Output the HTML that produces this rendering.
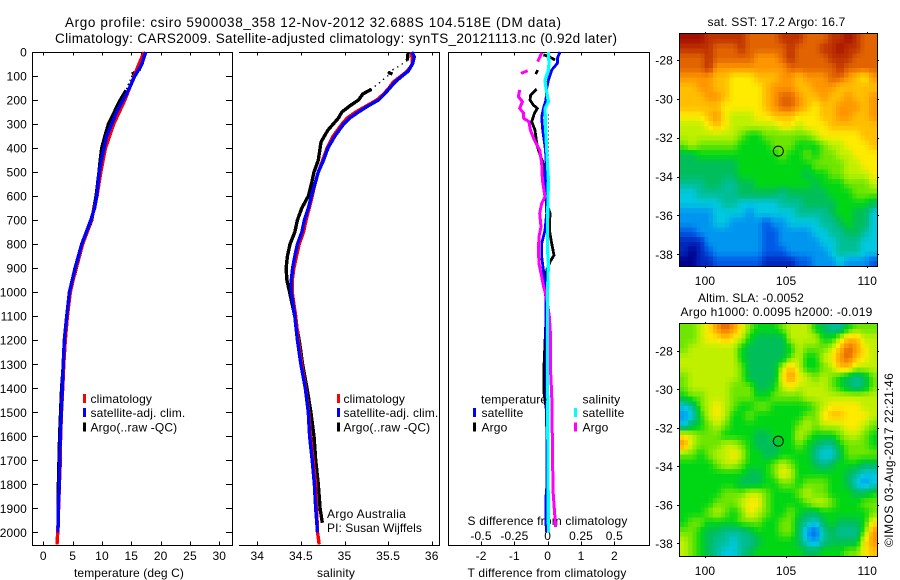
<!DOCTYPE html>
<html lang="en"><head><meta charset="utf-8"><title>Argo profile</title>
<style>
html,body{margin:0;padding:0;background:#fff;width:900px;height:580px;overflow:hidden}
svg{display:block}
text{font-family:"Liberation Sans",sans-serif;font-size:12px;fill:#000;letter-spacing:.14px}
</style></head>
<body>
<svg id="chart" width="900" height="580" viewBox="0 0 900 580" xmlns="http://www.w3.org/2000/svg">
<rect x="0" y="0" width="900" height="580" fill="#fff"/>
<text x="65" y="27" style="font-size:13.5px;letter-spacing:0" textLength="496" lengthAdjust="spacing">Argo profile: csiro 5900038_358 12-Nov-2012 32.688S 104.518E (DM data)</text>
<text x="55" y="43" style="font-size:13.5px;letter-spacing:0" textLength="562" lengthAdjust="spacing">Climatology: CARS2009. Satellite-adjusted climatology: synTS_20121113.nc (0.92d later)</text>
<text x="707.5" y="26" textLength="138" lengthAdjust="spacing">sat. SST: 17.2 Argo: 16.7</text>
<text x="698" y="302" textLength="106" lengthAdjust="spacing">Altim. SLA: -0.0052</text>
<text x="680.5" y="316" textLength="192" lengthAdjust="spacing">Argo h1000: 0.0095 h2000: -0.019</text>
<text transform="translate(893,547) rotate(-90)" textLength="174" lengthAdjust="spacing">©IMOS 03-Aug-2017 22:21:46</text>
<text x="327" y="518" textLength="79" lengthAdjust="spacing">Argo Australia</text>
<text x="327" y="532" textLength="95" lengthAdjust="spacing">PI: Susan Wijffels</text>
<text x="467.5" y="525" textLength="160" lengthAdjust="spacing">S difference from climatology</text>
<text x="467.5" y="577" textLength="159" lengthAdjust="spacing">T difference from climatology</text>
<text x="74" y="577" textLength="110" lengthAdjust="spacing">temperature (deg C)</text>
<text x="317" y="577" textLength="38" lengthAdjust="spacing">salinity</text>
</svg>
<script>
/* ---------- depth axis ---------- */
const depthTicks = [0,100,200,300,400,500,600,700,800,900,1000,1100,1200,1300,1400,1500,1600,1700,1800,1900,2000];
const tempTicks = [0,5,10,15,20,25,30];
const salTicks = [34,34.5,35,35.5,36];
const salTickLabels = ['34','34.5','35','35.5','36'];
const tDiffTicks = [-2,-1,0,1,2];
const sDiffTicks = [-0.5,-0.25,0,0.25,0.5];
const sDiffTickLabels = ['-0.5','-0.25','0','0.25','0.5'];
const lonTicks = [100,105,110];
const latTicks = [-28,-30,-32,-34,-36,-38];
const profileLon = 104.518;
const profileLat = -32.688;

/* ---------- temperature profile ---------- */
const depthClimT = [0,50,100,200,300,400,500,600,700,800,900,1000,1100,1200,1300,1400,1500,1600,1700,1800,1900,2000,2050];
const climT = [17.2,16.3,15.5,13.9,12,10.6,9.8,9.15,8.2,6.7,5.55,4.6,4.1,3.75,3.5,3.3,3.1,2.95,2.9,2.75,2.6,2.45,2.33];
const depthSatT = [0,50,80,100,150,200,250,300,350,400,450,500,600,650,700,800,900,1000,1100,1200,1300,1400,1500,1600,1700,1800,1900,2000];
const satT = [17.45,16.8,16.1,15.6,14.7,13.6,12.5,11.65,10.8,10.35,9.9,9.55,9.1,8.75,8.1,6.55,5.4,4.45,3.98,3.58,3.4,3.25,3.07,2.9,2.8,2.73,2.56,2.5];
const depthArgoT = [0,20,50,78,null,82,92,null,160,200,250,300,350,400,450,500,600,700,800,900,1000,1100,1400,1600,1800,1960];
const argoT = [16.9,16.9,16.7,16.3,null,15.9,15.1,null,14.1,13.1,12.1,11.1,10.5,9.95,9.7,9.5,9,8.25,6.7,5.6,4.55,4,3.12,2.78,2.58,2.5];
const depthRawT = [78,92,160];
const rawT = [16.3,15.2,14.1];

/* ---------- salinity profile ---------- */
const depthClimS = [0,50,80,100,125,150,175,200,225,250,275,300,350,400,450,500,550,600,650,700,750,800,850,900,950,1000,1100,1200,1300,1400,1500,1600,1700,1800,1900,2000,2050];
const climS = [35.77,35.78,35.72,35.65,35.56,35.51,35.45,35.37,35.25,35.13,35.03,34.97,34.87,34.8,34.75,34.7,34.66,34.63,34.595,34.56,34.53,34.48,34.45,34.42,34.4,34.4,34.44,34.47,34.51,34.555,34.59,34.61,34.64,34.67,34.68,34.69,34.71];
const depthSatS = [0,20,50,80,100,125,150,175,200,225,250,275,300,350,400,450,500,550,600,650,700,750,800,850,900,950,1000,1100,1200,1300,1400,1500,1600,1700,1800,1900,2000];
const satS = [35.77,35.8,35.78,35.73,35.66,35.58,35.52,35.46,35.39,35.27,35.16,35.06,34.99,34.89,34.81,34.76,34.7,34.66,34.62,34.585,34.54,34.51,34.46,34.43,34.405,34.39,34.39,34.43,34.46,34.5,34.55,34.585,34.6,34.63,34.655,34.67,34.69];
const depthArgoS = [0,35,null,85,92,null,155,175,200,225,250,275,300,325,350,375,400,450,500,550,600,650,700,750,800,850,900,950,1000,1100,1200,1300,1400,1500,1600,1700,1800,1900,1960];
const argoS = [35.73,35.72,null,35.5,35.55,null,35.31,35.21,35.16,35.06,34.97,34.93,34.87,34.81,34.77,34.73,34.72,34.7,34.65,34.62,34.585,34.51,34.46,34.43,34.375,34.345,34.33,34.34,34.37,34.43,34.48,34.52,34.57,34.615,34.65,34.67,34.7,34.72,34.745];
const depthRawS = [35,60,85,92,155];
const rawS = [35.72,35.62,35.5,35.52,35.31];

/* ---------- differences from climatology ---------- */
const depthDiffSatT = [0,26,47,75,117,151,200,235,270,325,394,436,533,603,672,742,797,853,908,964,1019,1100,1800,1850,1950,2000];
const diffSatT = [0.37,0.29,0.29,0.12,0.02,-0.03,-0.05,-0.13,-0.18,-0.15,-0.08,-0.05,-0.07,-0.05,-0.03,-0.08,-0.18,-0.18,-0.13,-0.08,-0.06,-0.05,-0.02,-0.05,-0.06,-0.03];
const depthDiffArgoT = [12,18,33,null,75,92,null,155,179,200,221,235,255,290,325,380,408,457,533,617,672,742,797,846,874,908,964,1019,1140,1240,1340,1410,1500,2000];
const diffArgoT = [-0.13,0.02,0.22,null,-0.3,-0.36,null,-0.33,-0.51,-0.53,-0.43,-0.31,-0.4,-0.48,-0.38,-0.33,-0.28,-0.15,-0.07,-0.05,0.07,0.05,0.12,0.19,0.07,-0.03,-0.05,-0.03,-0.06,-0.09,-0.12,-0.12,-0.03,-0.02];
const depthDiffSatS = [0,47,75,117,151,207,235,325,408,533,672,811,880,1019,1500,2000];
const diffSatS = [0.005,0.01,0.005,-0.02,-0.0125,0.005,-0.02,-0.015,-0.0075,0.005,0,-0.0025,0.005,-0.0025,0,0.005];
const depthDiffArgoS = [3,19,40,null,78,89,null,158,186,207,235,255,276,290,325,367,408,464,533,603,630,672,728,769,825,880,936,978,1019,1103,1172,1242,1340,1422,1630,1825,1908,1978];
const diffArgoS = [-0.045,-0.0575,-0.075,null,-0.15,-0.2,null,-0.21,-0.22,-0.19,-0.21,-0.18,-0.18,-0.14,-0.13,-0.1,-0.06,-0.045,-0.04,-0.02,-0.045,-0.06,-0.05,-0.065,-0.07,-0.065,-0.045,-0.03,-0.01,0.0125,0.02,0.02,0.0225,0.03,0.035,0.04,0.05,0.06];
const depthDiffRaw = [260,430];
const diffRaw = [0.02,0.02];

/* ---------- maps (colour levels 0-15) ---------- */
const sstLevels = [
[15,15,15,14,14,14,14,14,13,13,13,13,14,14,14,13,13,13,14,14,15,14,13,13],
[14,14,14,14,13,13,13,14,13,13,13,13,13,14,13,13,13,14,14,15,14,14,13,13],
[13,13,13,14,13,13,13,13,13,12,12,12,13,14,13,13,13,13,14,14,14,13,13,13],
[13,13,13,14,12,12,12,12,12,12,12,12,12,13,13,13,13,13,13,14,13,13,13,13],
[12,12,12,12,11,11,10,10,10,11,11,11,12,12,11,12,12,12,13,13,12,11,10,12],
[11,11,12,12,11,11,10,10,10,10,11,12,12,12,11,11,12,12,12,11,11,11,11,11],
[11,11,11,12,12,11,10,10,10,10,11,12,13,13,12,11,11,12,11,11,12,11,11,12],
[11,11,11,11,11,10,10,10,10,10,11,12,13,13,12,11,10,11,11,12,12,12,11,12],
[10,10,10,11,12,10,9,9,9,10,10,11,11,11,10,10,10,11,11,12,12,11,11,12],
[9,9,9,10,11,10,9,9,9,9,9,9,10,10,9,10,10,10,11,11,11,11,11,11],
[9,9,9,9,9,9,9,8,7,7,8,8,8,8,8,8,9,10,10,10,10,10,11,11],
[8,9,8,8,8,8,8,7,7,7,7,8,8,8,7,7,7,8,9,9,10,10,10,11],
[6,6,7,7,7,7,7,7,7,7,7,7,8,7,7,8,7,8,8,9,9,10,10,10],
[6,6,6,6,6,6,6,7,7,7,7,7,7,7,7,7,8,8,8,8,9,9,10,10],
[6,6,6,6,6,6,6,7,7,7,7,7,7,7,7,6,7,7,8,8,9,9,9,10],
[5,5,5,6,6,5,5,6,6,7,7,7,7,7,7,7,6,7,7,7,8,8,8,9],
[4,4,5,5,5,5,5,6,6,6,6,6,5,6,6,6,6,6,7,7,7,8,8,8],
[4,4,4,4,4,5,5,4,4,4,4,4,5,5,5,6,6,6,6,7,7,7,7,6],
[3,3,3,3,4,4,4,4,3,4,4,4,4,4,5,5,5,5,6,7,7,6,6,4],
[3,3,3,3,4,4,3,3,3,3,2,3,3,4,4,4,4,5,5,6,7,6,6,4],
[2,2,3,3,3,3,3,3,3,3,2,2,3,3,3,3,4,4,5,5,6,6,5,4],
[1,1,1,3,3,3,3,3,3,3,2,2,3,3,3,3,3,4,4,5,5,5,4,4],
[1,0,1,2,3,3,3,3,3,3,2,2,2,3,3,3,3,3,4,5,5,5,4,4],
[0,0,1,1,2,2,2,2,2,2,1,1,1,1,2,2,3,3,3,4,3,3,3,2]
];
const slaLevels = [
[8,8,9,10,12,13,12,10,8,7,7,7,8,9,9,9,7,6,5,5,7,8,8,8],
[8,8,9,10,10,11,10,9,7,6,6,6,6,9,9,9,9,7,7,9,11,11,9,9],
[8,9,9,9,9,9,9,7,6,6,6,6,6,7,9,8,8,8,9,11,13,12,10,9],
[9,9,9,9,9,9,9,7,6,6,6,6,6,8,9,7,7,9,10,12,13,11,10,9],
[9,9,9,9,9,9,9,8,6,6,6,6,9,11,9,7,7,8,9,11,11,9,9,9],
[8,9,9,9,9,9,9,8,6,6,6,6,10,12,10,9,8,9,8,7,6,5,6,8],
[8,9,9,9,9,9,8,8,8,6,6,7,9,10,9,9,9,9,8,7,6,5,6,8],
[7,8,8,9,9,9,8,8,8,7,7,8,8,8,8,9,9,9,9,9,9,9,9,9],
[4,5,8,9,10,9,8,7,7,8,8,7,7,7,7,7,8,9,10,10,10,10,9,9],
[3,4,7,9,10,9,7,7,8,7,7,7,7,7,7,8,8,10,11,11,10,10,10,9],
[4,6,7,8,9,8,7,7,7,7,7,7,7,7,8,9,8,9,9,9,10,10,9,8],
[10,9,8,8,8,7,7,7,7,6,6,7,7,7,9,8,7,7,7,8,9,9,8,7],
[12,9,8,8,8,9,9,8,7,6,6,6,7,7,8,7,6,5,5,7,8,8,8,7],
[8,8,7,8,9,9,10,9,7,7,6,6,7,7,7,7,5,4,4,6,8,8,8,8],
[7,7,7,7,8,9,9,8,7,7,7,8,9,8,7,7,6,5,6,7,7,7,6,6],
[7,7,7,7,7,7,7,7,6,6,7,8,10,9,7,7,7,7,7,7,6,5,4,4],
[7,7,7,7,7,7,7,6,6,6,7,7,8,8,7,8,8,8,7,7,6,4,3,4],
[7,7,7,7,7,8,8,8,9,9,8,7,7,7,8,9,8,8,7,7,7,6,6,7],
[7,7,7,7,8,8,8,9,10,10,8,7,7,7,7,8,9,9,8,7,7,7,8,8],
[7,7,7,8,9,8,7,8,10,9,8,7,7,8,7,6,6,7,7,7,7,7,7,8],
[7,8,8,7,7,7,7,8,8,8,7,7,8,8,6,5,4,6,7,6,6,6,7,10],
[8,8,7,6,6,5,5,5,6,7,7,7,8,8,6,3,2,5,6,5,5,5,8,12],
[9,8,7,6,5,5,4,5,5,6,7,7,7,7,6,4,3,5,6,6,6,6,10,12],
[9,8,7,6,5,4,4,5,6,7,7,7,7,7,7,6,6,7,7,7,8,8,10,11]
];
const levelColors = [[0,0,140],[0,40,190],[0,90,230],[0,150,240],[0,200,225],[0,190,150],[0,190,90],[0,215,20],[110,230,0],[190,240,0],[255,235,0],[255,190,0],[255,150,0],[225,100,0],[190,50,0],[165,15,0]];

/* ---------- drawing ---------- */
const svg = document.getElementById('chart');
const NS = 'http://www.w3.org/2000/svg';

function make(tag, name, attrs, text) {
  const el = document.createElementNS(NS, tag);
  
  
  for (const k in attrs) el.setAttribute(k, attrs[k]);
  if (text !== undefined) el.textContent = text;
  svg.appendChild(el);
  return el;
}
function hLine(name, x1, x2, y) {
  return make('line', name, {x1: x1, x2: x2, y1: y, y2: y, stroke: '#000', 'stroke-width': 1, 'shape-rendering': 'crispEdges'});
}
function vLine(name, x, y1, y2) {
  return make('line', name, {x1: x, x2: x, y1: y1, y2: y2, stroke: '#000', 'stroke-width': 1, 'shape-rendering': 'crispEdges'});
}
function label(name, x, y, str, anchor) {
  return make('text', name, {x: x, y: y, 'text-anchor': anchor || 'start'}, str);
}

const plotTop = 52.5, plotBottom = 545.5;
const yDepth = d => 52 + 0.2402 * d;
const xTemp = t => 43.3 + 5.867 * t;
const xSal = s => 257.3 + 87.2 * (s - 34);
const xTDiff = t => 547.7 + 33.33 * t;
const xSDiff = s => 547.7 + 133.3 * s;

function drawSeries(name, depths, values, xFn, color, width, dash) {
  let segment = [];
  const flush = () => {
    if (segment.length > 1) {
      const attrs = {points: segment.join(' '), fill: 'none', stroke: color, 'stroke-width': width, 'stroke-linejoin': 'round', 'shape-rendering': 'crispEdges'};
      if (dash) attrs['stroke-dasharray'] = dash;
      make('polyline', name, attrs);
    }
    segment = [];
  };
  depths.forEach((d, i) => {
    if (d === null || values[i] === null) { flush(); return; }
    segment.push(xFn(values[i]).toFixed(1) + ',' + yDepth(d).toFixed(1));
  });
  flush();
}

/* panel frames */
hLine('temperature-panel-top', 32, 233, plotTop);
hLine('temperature-panel-bottom', 32, 233, plotBottom);
vLine('temperature-panel-left', 32.5, plotTop, plotBottom);
vLine('temperature-panel-right', 232.5, plotTop, plotBottom);
hLine('salinity-panel-top', 239, 440, plotTop);
hLine('salinity-panel-bottom', 239, 440, plotBottom);
vLine('salinity-panel-right', 439.5, plotTop, plotBottom);
hLine('difference-panel-top', 448, 650, plotTop);
hLine('difference-panel-bottom', 448, 650, plotBottom);
vLine('difference-panel-left', 448.5, plotTop, plotBottom);
vLine('difference-panel-right', 649.5, plotTop, plotBottom);

/* depth ticks */
depthTicks.forEach(d => {
  const y = Math.round(yDepth(d)) + 0.5;
  hLine('depth-tick-left', 32, 38, y);
  hLine('depth-tick-right', 226, 233, y);
  label('depth-tick-label', 27, yDepth(d) + 4.5, String(d), 'end');
});

/* x ticks */
function xTicks(name, ticks, xFn, labels, labelY) {
  ticks.forEach((t, i) => {
    const x = Math.round(xFn(t)) + 0.5;
    vLine(name + '-tick-top', x, plotTop, plotTop + 3);
    vLine(name + '-tick-bottom', x, plotBottom - 4, plotBottom);
    if (labels) label(name + '-tick-label', xFn(t), labelY, labels[i], 'middle');
  });
}
xTicks('temperature', tempTicks, xTemp, tempTicks.map(String), 560);
xTicks('salinity', salTicks, xSal, salTickLabels, 560);
xTicks('t-difference', tDiffTicks, xTDiff, tDiffTicks.map(String), 560);
sDiffTicks.forEach((s, i) => {
  label('s-difference-tick-label', xSDiff(s), 540, sDiffTickLabels[i], 'middle');
});

/* temperature series */
drawSeries('temperature-argo-raw-line', depthRawT, rawT, xTemp, '#000', 1.4, '1.4 3');
drawSeries('temperature-argo-line', depthArgoT, argoT, xTemp, '#000', 3.4);
drawSeries('temperature-climatology-line', depthClimT, climT, xTemp, '#f00', 3.4);
drawSeries('temperature-satellite-line', depthSatT, satT, xTemp, '#00f', 3.4);

/* salinity series */
drawSeries('salinity-argo-raw-line', depthRawS, rawS, xSal, '#000', 1.4, '1.4 4');
drawSeries('salinity-argo-line', depthArgoS, argoS, xSal, '#000', 3.4);
drawSeries('salinity-climatology-line', depthClimS, climS, xSal, '#f00', 3.4);
drawSeries('salinity-satellite-line', depthSatS, satS, xSal, '#00f', 3.4);

/* difference series */
drawSeries('t-diff-raw-line', depthDiffRaw, diffRaw, xTDiff, '#000', 1, '1 3');
drawSeries('t-diff-argo-line', depthDiffArgoT, diffArgoT, xTDiff, '#000', 2.8);
drawSeries('t-diff-satellite-line', depthDiffSatT, diffSatT, xTDiff, '#00f', 2.8);
drawSeries('s-diff-argo-line', depthDiffArgoS, diffArgoS, xSDiff, '#f0f', 3);
drawSeries('s-diff-satellite-line', depthDiffSatS, diffSatS, xSDiff, '#0ff', 3.2);

/* legends */
function legendEntry(name, swX, txtX, cy, color, str) {
  make('rect', name + '-swatch', {x: swX, y: cy - 4.5, width: 3, height: 9, fill: color, 'shape-rendering': 'crispEdges'});
  make('text', name + '-label', {x: txtX, y: cy + 4.5}, str);
}
legendEntry('legend-t-climatology', 83, 90.5, 398.7, '#f00', 'climatology');
legendEntry('legend-t-satellite', 83, 90.5, 412.7, '#00f', 'satellite-adj. clim.');
legendEntry('legend-t-argo', 83, 90.5, 427, '#000', 'Argo(..raw -QC)');
legendEntry('legend-s-climatology', 337, 343.5, 398.7, '#f00', 'climatology');
legendEntry('legend-s-satellite', 337, 343.5, 412.7, '#00f', 'satellite-adj. clim.');
legendEntry('legend-s-argo', 337, 343.5, 427, '#000', 'Argo(..raw -QC)');
label('legend-diff-temperature-heading', 481, 403.5, 'temperature');
label('legend-diff-salinity-heading', 582.5, 403.5, 'salinity');
legendEntry('legend-diff-t-satellite', 473, 481.5, 412.7, '#00f', 'satellite');
legendEntry('legend-diff-t-argo', 473, 481.5, 427, '#000', 'Argo');
legendEntry('legend-diff-s-satellite', 574, 582.5, 412.7, '#0ff', 'satellite');
legendEntry('legend-diff-s-argo', 574, 582.5, 427, '#f0f', 'Argo');

/* maps: each grid value is shaded on a 2x display raster, blended with its neighbours */
function levelColor(v) {
  const i = Math.min(14, Math.floor(v));
  const f = v - i;
  const a = levelColors[i], b = levelColors[i + 1];
  return 'rgb(' + a.map((c, k) => Math.round(c + (b[k] - c) * f)).join(',') + ')';
}
function sampleLevel(levels, rf, cf) {
  const rows = levels.length, cols = levels[0].length;
  const r = Math.max(0, Math.min(rows - 1, rf)), c = Math.max(0, Math.min(cols - 1, cf));
  const r0 = Math.floor(r), c0 = Math.floor(c);
  const r1 = Math.min(rows - 1, r0 + 1), c1 = Math.min(cols - 1, c0 + 1);
  const fr = r - r0, fc = c - c0;
  return (levels[r0][c0] * (1 - fc) + levels[r0][c1] * fc) * (1 - fr) + (levels[r1][c0] * (1 - fc) + levels[r1][c1] * fc) * fr;
}
function drawMap(prefix, levels, top, bottom, lat28, pxPerDeg, labelY) {
  const left = 680, right = 877;
  const xLon = lon => 705 + 16.23 * (lon - 100);
  const yLat = lat => lat28 + pxPerDeg * (-28 - lat);
  const rows = levels.length * 2, cols = levels[0].length * 2;
  for (let r = 0; r < rows; r++) {
    for (let c = 0; c < cols; c++) {
      const v = sampleLevel(levels, (r - 0.5) / 2, (c - 0.5) / 2);
      const x0 = left + (right - left) * c / cols;
      const y0 = top + (bottom - top) * r / rows;
      make('rect', prefix + '-heatmap-cell', {x: x0.toFixed(2), y: y0.toFixed(2), width: ((right - left) / cols + 0.4).toFixed(2), height: ((bottom - top) / rows + 0.4).toFixed(2), fill: levelColor(v), 'shape-rendering': 'crispEdges'});
    }
  }
  make('rect', prefix + '-frame', {x: left - 0.5, y: top - 0.5, width: right - left + 1, height: bottom - top + 1, fill: 'none', stroke: '#000', 'stroke-width': 1, 'shape-rendering': 'crispEdges'});
  lonTicks.forEach(lon => {
    const x = Math.round(xLon(lon)) + 0.5;
    vLine(prefix + '-lon-tick', x, bottom, bottom + 2);
    vLine(prefix + '-lon-tick-top', x, top - 2, top);
    label(prefix + '-lon-label', xLon(lon), labelY, String(lon), 'middle');
  });
  latTicks.forEach(lat => {
    const y = Math.round(yLat(lat)) + 0.5;
    hLine(prefix + '-lat-tick', left - 3, left, y);
    hLine(prefix + '-lat-tick-right', right, right + 2, y);
    label(prefix + '-lat-label', 673, yLat(lat) + 4.5, String(lat), 'end');
  });
  make('circle', prefix + '-argo-position-marker', {cx: xLon(profileLon), cy: yLat(profileLat), r: 5, fill: 'none', stroke: '#000', 'stroke-width': 1});
}
drawMap('sst-map', sstLevels, 34, 266, 60, 19.43, 285);
drawMap('sla-map', slaLevels, 324, 556, 351, 19.23, 575);
</script>
</body></html>
